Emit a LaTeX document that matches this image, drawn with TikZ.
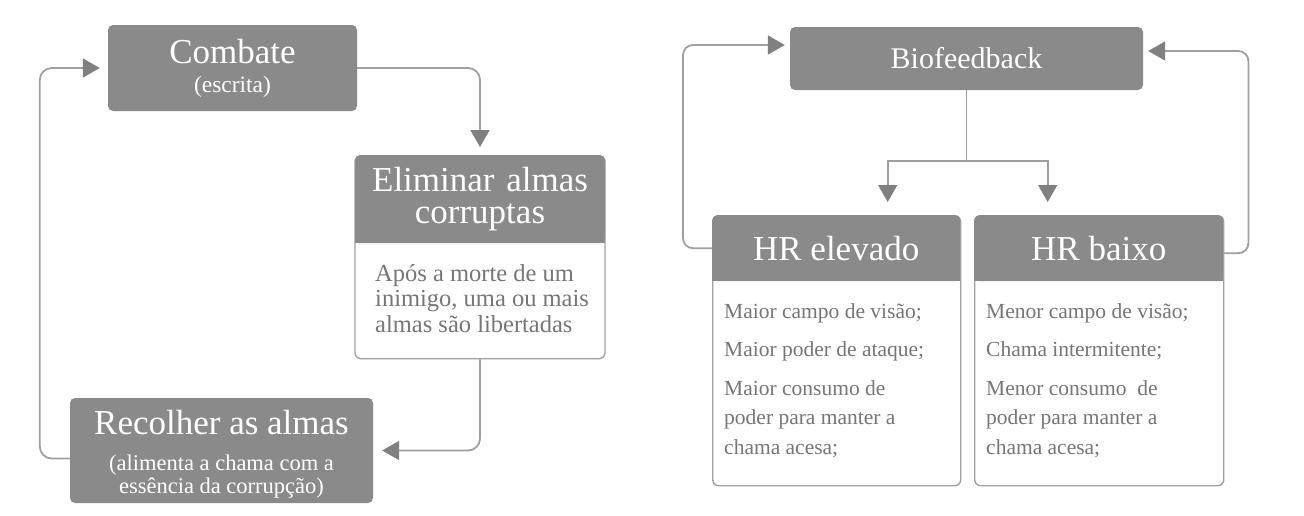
\documentclass[tikz,border=0pt]{standalone}
\usepackage{fontspec}
\setmainfont{Liberation Serif}
\usetikzlibrary{arrows.meta, positioning}
\definecolor{boxgray}{RGB}{138,138,138}
\definecolor{linegray}{RGB}{160,160,160}
\definecolor{tipgray}{RGB}{128,128,128}
\definecolor{bodygray}{RGB}{118,118,118}

\begin{document}
\begin{tikzpicture}[x=1pt, y=-1pt,
  hdr/.style={fill=boxgray, rounded corners=5pt, text=white, align=center,
              inner sep=0pt},
  panel/.style={draw=linegray, line width=1.4pt, fill=white,
                rounded corners=6pt, inner sep=0pt},
  txt/.style={text=bodygray, align=left, inner sep=0pt, anchor=north west},
  link/.style={draw=linegray, line width=1.8pt, rounded corners=12pt,
               -{Triangle[length=17pt, width=19pt, color=tipgray]}}]
  \useasboundingbox (0,0) rectangle (1304,515);

  % Left cycle
  \node[hdr, minimum width=249pt, minimum height=86pt, text width=240pt,
        font=\fontsize{35}{29}\selectfont] (combate) at (232.5,68)
    {Combate\\{\fontsize{23.5}{29}\selectfont (escrita)}};

  \node[panel, minimum width=250pt, minimum height=203pt, anchor=north]
    (elimbox) at (480,155) {};
  \node[hdr, minimum width=250pt, minimum height=88pt, anchor=north,
        text width=245pt, font=\fontsize{35}{32}\selectfont]
    (elim) at (elimbox.north) {Eliminar almas\\corruptas};
  \fill[boxgray] ([yshift=7pt]elim.south west) rectangle (elim.south east);
  \node[txt, font=\fontsize{24.5}{25.5}\selectfont] (elimtxt) at (375,264)
    {Após a morte de um\\inimigo, uma ou mais\\almas são libertadas};

  \node[hdr, minimum width=303pt, minimum height=105pt,
        font=\fontsize{22.5}{23}\selectfont] (recolher) at (221.5,450.5)
    {{\fontsize{35}{23}\selectfont\rule{0pt}{32pt}Recolher as almas}\\[13pt]
     {\fontsize{22.5}{23}\selectfont (alimenta a chama com a}\\
     {\fontsize{22.5}{23}\selectfont essência da corrupção)}};

  \draw[link, shorten >=8pt] (combate.east) -| (elimbox.north);
  \draw[link, shorten >=9pt] (elimbox.south) |- (recolher.east);
  \draw[link, shorten >=8pt] ([yshift=-8pt]recolher.west) -- ++(-30,0)
    |- (combate.west);

  % Right side: biofeedback
  \node[hdr, minimum width=353pt, minimum height=63pt,
        font=\fontsize{30}{30}\selectfont] (bio) at (966.5,58.5) {Biofeedback};

  \node[panel, minimum width=248pt, minimum height=270pt, anchor=north west]
    (elevbox) at (712,215) {};
  \node[hdr, minimum width=248pt, minimum height=66pt, anchor=north west,
        font=\fontsize{35}{35}\selectfont] (elev) at (elevbox.north west) {HR elevado};
  \fill[boxgray] ([yshift=7pt]elev.south west) rectangle (elev.south east);
  \node[txt, font=\fontsize{21.5}{29.5}\selectfont] (elevtxt) at (724,303)
    {Maior campo de visão;\\[9pt]Maior poder de ataque;\\[9pt]Maior consumo de\\poder para manter a\\chama acesa;};

  \node[panel, minimum width=249pt, minimum height=270pt, anchor=north west]
    (baixobox) at (974,215) {};
  \node[hdr, minimum width=249pt, minimum height=66pt, anchor=north west,
        font=\fontsize{35}{35}\selectfont] (baixo) at (baixobox.north west) {HR baixo};
  \fill[boxgray] ([yshift=7pt]baixo.south west) rectangle (baixo.south east);
  \node[txt, font=\fontsize{21.5}{29.5}\selectfont] (baixotxt) at (986,303)
    {Menor campo de visão;\\[9pt]Chama intermitente;\\[9pt]Menor consumo~ de\\poder para manter a\\chama acesa;};

  \coordinate (fork) at ([yshift=-71pt]bio.south);
  \draw[linegray, line width=1.8pt] (bio.south) -- (fork);
  \draw[link, rounded corners=0pt, shorten >=13pt] (fork)
    -| ([xshift=51pt]elevbox.north);
  \draw[link, rounded corners=0pt, shorten >=13pt] (fork)
    -| ([xshift=-51.5pt]baixobox.north);
  \draw[link, rounded corners=10pt, shorten >=5pt] (elev.west) -- ++(-29,0)
    |- ([yshift=13.5pt]bio.west);
  \draw[link, rounded corners=10pt, shorten >=5pt] ([yshift=-5pt]baixo.east)
    -- ++(25,0) |- ([yshift=7.5pt]bio.east);
\end{tikzpicture}
\end{document}
